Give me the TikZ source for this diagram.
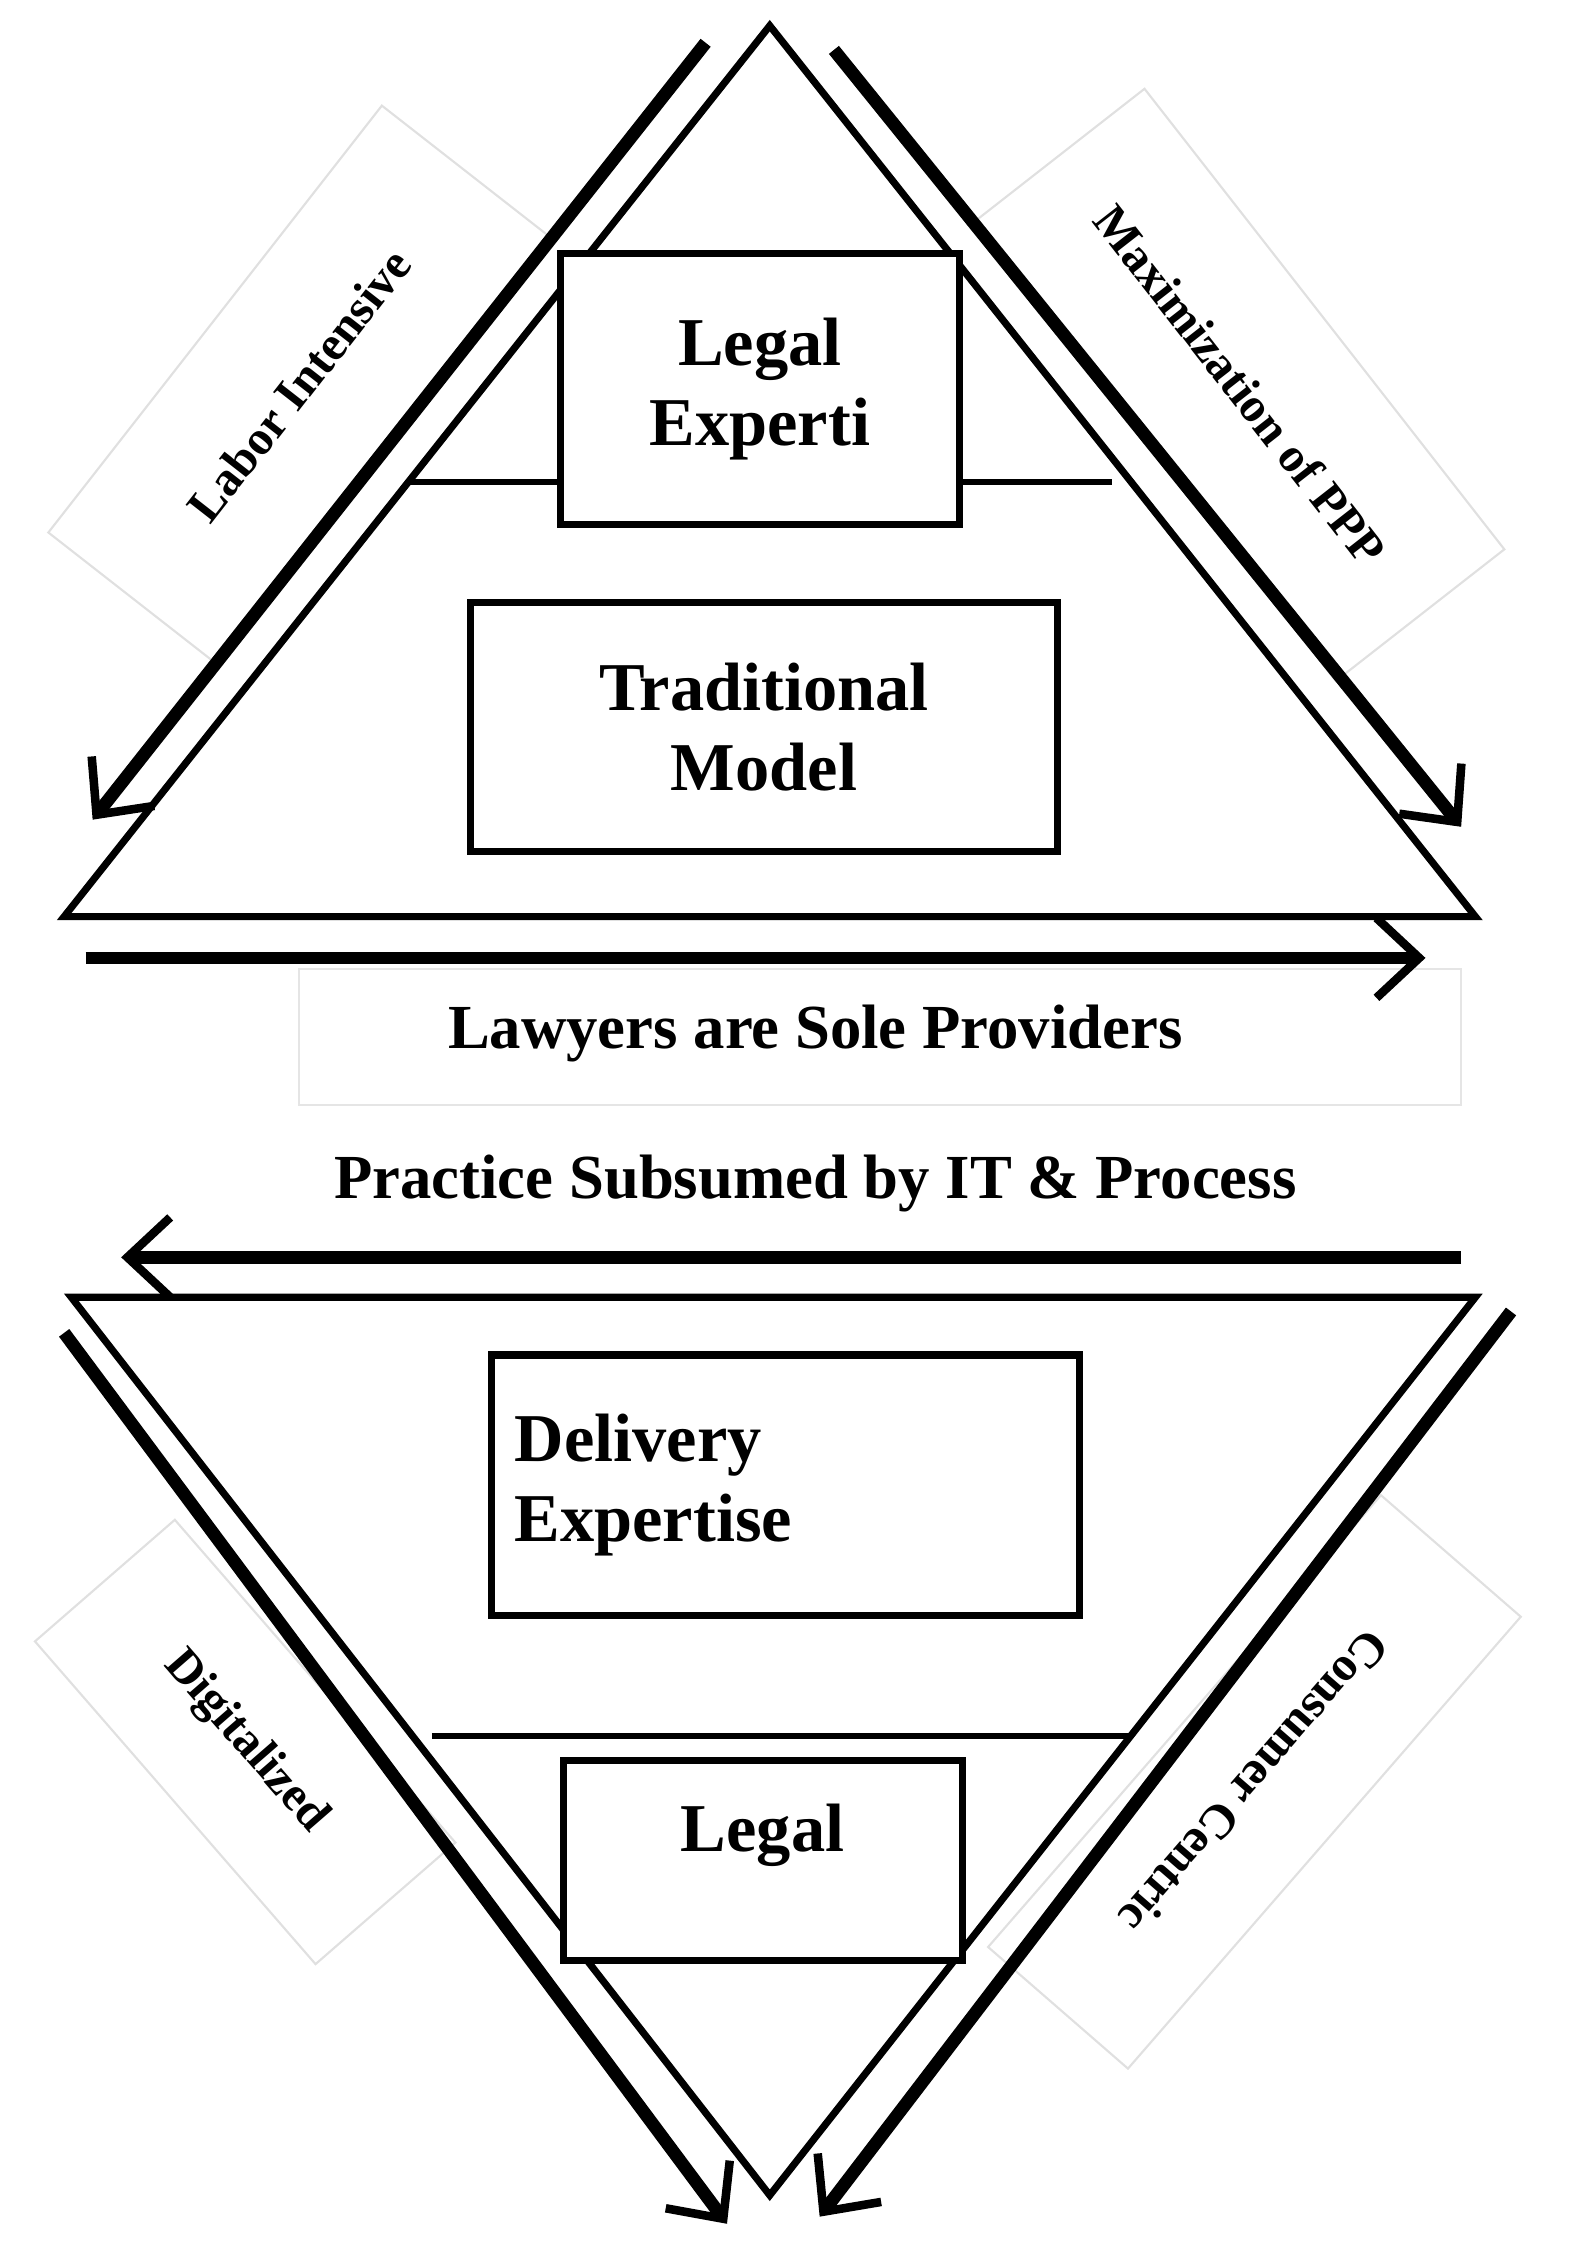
\documentclass[tikz,border=0pt]{standalone}
\usepackage{fontspec}
\setmainfont{Liberation Serif}
\usetikzlibrary{arrows.meta}
\begin{document}
\begin{tikzpicture}[x=1pt,y=-1pt,
  tri/.style={line width=5pt,line join=miter},
  bx/.style={draw,line width=5pt,align=center,font=\fontsize{48}{56}\selectfont\bfseries},
  arr/.style={line width=9pt,-{Straight Barb[length=30pt,width=56pt,line width=6pt]}},
  lab/.style={draw=black!12,line width=1.5pt,font=\fontsize{34}{40}\selectfont\bfseries,inner sep=10pt},
  big/.style={font=\fontsize{44}{52}\selectfont\bfseries}]
\useasboundingbox (0,0) rectangle (1100,1577);
% labels (background)
\node[lab,rotate=52,minimum width=380pt,minimum height=150pt] (li) at (210,270) {Labor Intensive};
\node[lab,rotate=-52,minimum width=410pt,minimum height=150pt] (mp) at (870,270) {Maximization of PPP};
\node[lab,rotate=-49,minimum width=300pt,minimum height=130pt] (dg) at (172,1222) {Digitalized};
\node[lab,rotate=-131,minimum width=420pt,minimum height=130pt] (cc) at (880,1250) {Consumer Centric};
\draw[draw=black!10,line width=1.5pt] (210,680) rectangle (1025,775);
% top triangle
\draw[tri] (540,18) -- (1035,643) -- (45,643) -- cycle;
\coordinate (t1) at (287,338); \coordinate (t2) at (780,338);
\draw[line width=4pt] (t1) -- (t2);
\node[bx,fill=white,minimum width=280pt,minimum height=190pt] (le) at (533,273) {Legal\\Experti};
\node[bx,minimum width=412pt,minimum height=175pt] (tm) at (536,510) {Traditional\\Model};
\coordinate (a1s) at (495,30); \coordinate (a1e) at (65,575);
\coordinate (a2s) at (585,35); \coordinate (a2e) at (1025,580);
\draw[arr] (a1s) -- (a1e);
\draw[arr] (a2s) -- (a2e);
% middle
\coordinate (h1) at (60,672); \coordinate (h2) at (1000,672);
\draw[arr] (h1) -- (h2);
\node[big] (lw) at (572,725) {Lawyers are Sole Providers};
\node[big] (ps) at (572,830) {Practice Subsumed by IT \& Process};
\coordinate (h3) at (1025,882); \coordinate (h4) at (85,882);
\draw[arr] (h3) -- (h4);
% bottom triangle
\draw[tri] (50,910) -- (1035,910) -- (540,1540) -- cycle;
\coordinate (b1) at (303,1218); \coordinate (b2) at (795,1218);
\draw[line width=4pt] (b1) -- (b2);
\node[bx,fill=white,minimum width=412pt,minimum height=183pt,align=left,text width=380pt] (de) at (551,1042) {Delivery\\Expertise};
\node[bx,fill=white,minimum width=280pt,minimum height=140pt] (lg) at (535,1305) {Legal\\[-10pt]\phantom{x}};
\coordinate (c1s) at (45,935); \coordinate (c1e) at (510,1560);
\coordinate (c2s) at (1060,920); \coordinate (c2e) at (575,1555);
\draw[arr] (c1s) -- (c1e);
\draw[arr] (c2s) -- (c2e);
\end{tikzpicture}
\end{document}
